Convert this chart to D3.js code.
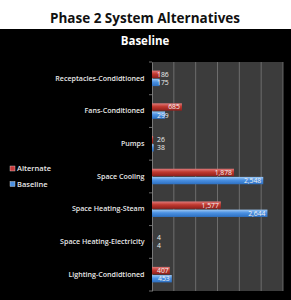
<!DOCTYPE html>
<html><head><meta charset="utf-8">
<script src="https://cdn.jsdelivr.net/npm/d3@7"></script>
<style>html,body{margin:0;padding:0;background:#fff;}svg{display:block;}</style>
</head><body>
<script>
const categories = ["Receptacles-Condidtioned","Fans-Conditioned","Pumps","Space Cooling","Space Heating-Steam","Space Heating-Electricity","Lighting-Condidtioned"];
const seriesNames = ["Alternate","Baseline"];
const alternateValues = [186,685,26,1878,1577,4,407];
const baselineValues = [175,299,38,2548,2644,4,453];
const xTicks = [0,500,1000,1500,2000,2500,3000];
const title = "Phase 2 System Alternatives";
const subtitle = "Baseline";

(function(){
const W=291,H=300;
const svg=d3.select("body").append("svg").attr("width",W).attr("height",H);
const defs=svg.append("defs");
function grad(id,c1,c2,c3){const g=defs.append("linearGradient").attr("id",id).attr("x1",0).attr("y1",0).attr("x2",0).attr("y2",1);
 g.append("stop").attr("offset","0%").attr("stop-color",c1);
 g.append("stop").attr("offset","45%").attr("stop-color",c2);
 g.append("stop").attr("offset","100%").attr("stop-color",c3);}
grad("gRed","#e07a7a","#c0392f","#8e1f1c");
grad("gBlue","#9cc8f5","#4a90e2","#2d6fc0");
const fills={Alternate:"url(#gRed)",Baseline:"url(#gBlue)"};
const solid={Alternate:"#c8393a",Baseline:"#4a90e2"};

svg.append("text").attr("x",145).attr("y",23).attr("text-anchor","middle")
 .attr("font-family","Open Sans").attr("font-weight","bold").attr("font-size",13.5).attr("fill","#111").text(title);
svg.append("rect").attr("x",0).attr("y",29).attr("width",W).attr("height",H-29).attr("fill","#000");
svg.append("text").attr("x",145).attr("y",45).attr("text-anchor","middle")
 .attr("font-family","Open Sans").attr("font-weight","bold").attr("font-size",11.5).attr("fill","#fff").text(subtitle);

const pL=152,pR=283,pT=62,pB=291;
const x=d3.scaleLinear().domain([0,3000]).range([pL,pR]);
const y=d3.scaleBand().domain(categories).range([pT,pB]);
const ySub=d3.scaleBand().domain(seriesNames).range([0,15.5]).paddingInner(0.1);

svg.append("rect").attr("x",pL).attr("y",pT).attr("width",pR-pL).attr("height",pB-pT).attr("fill","#3c3c3c");
svg.append("g").selectAll("line").data(xTicks.slice(1)).join("line")
 .attr("x1",d=>x(d)).attr("x2",d=>x(d)).attr("y1",pT).attr("y2",pB)
 .attr("stroke","#7a7a7a").attr("stroke-width",0.8);

const yAxis=svg.append("g").attr("transform",`translate(${pL},0)`)
 .call(d3.axisLeft(y).tickSize(0).tickPadding(7.5));
yAxis.select(".domain").attr("stroke","#888").attr("stroke-width",0.8);
yAxis.selectAll("text").attr("font-family","Open Sans").attr("font-size",7.1).attr("font-weight","600").attr("fill","#e8e8e8");
svg.append("g").selectAll("line").data(d3.range(categories.length+1)).join("line")
 .attr("x1",pL-3).attr("x2",pL).attr("y1",i=>pT+i*y.step()).attr("y2",i=>pT+i*y.step())
 .attr("stroke","#888").attr("stroke-width",0.8);

const rows=categories.map((c,i)=>({cat:c,values:[{s:"Alternate",v:alternateValues[i]},{s:"Baseline",v:baselineValues[i]}]}));
const fmt=d3.format(",");
const groups=svg.append("g").selectAll("g").data(rows).join("g")
 .attr("transform",d=>`translate(0,${y(d.cat)+y.bandwidth()/2-7.75})`);
groups.selectAll("rect").data(d=>d.values).join("rect")
 .attr("x",x(0)).attr("y",d=>ySub(d.s)).attr("width",d=>x(d.v)-x(0)).attr("height",ySub.bandwidth())
 .attr("fill",d=>fills[d.s]);
groups.selectAll("text").data(d=>d.values).join("text")
 .attr("font-family","Open Sans").attr("font-size",6.8).attr("fill","#f0f0f0")
 .attr("text-anchor","end").attr("y",d=>ySub(d.s)+ySub.bandwidth()/2+2.4)
 .text(d=>fmt(d.v))
 .attr("x",function(d){const w=this.getComputedTextLength();return Math.max(x(d.v)-2,x(0)+5+w);});

const lg=svg.append("g").selectAll("g").data(seriesNames).join("g")
 .attr("transform",(d,i)=>`translate(10,${168.5+i*15.5})`);
lg.append("rect").attr("x",0).attr("y",-2.5).attr("width",5).attr("height",5).attr("fill",d=>solid[d]).attr("stroke","#ddd").attr("stroke-width",0.4);
lg.append("text").attr("x",7).attr("y",2.7).attr("font-family","Open Sans").attr("font-size",7.5).attr("font-weight","600").attr("fill","#e8e8e8").text(d=>d);
})();
</script>
</body></html>
